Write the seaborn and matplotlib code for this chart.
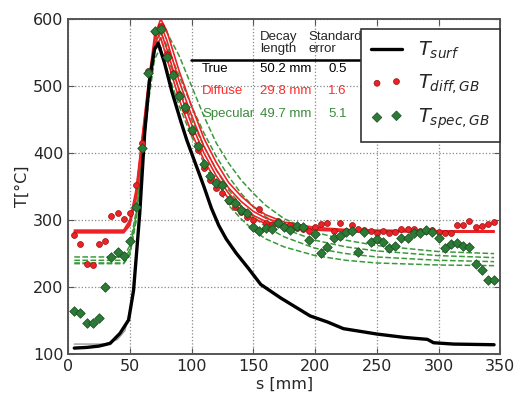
import matplotlib

matplotlib.use("Agg")
import matplotlib.pyplot as plt
import numpy as np
import pandas as pd
import seaborn as sns

# measured points, every 5 mm along the surface
s_pts = list(range(5, 350, 5))
T_diff = [278, 265, 234, 233, 264, 269, 306, 311, 301, 310, 352, 415, 522, 580, 590,
          548, 520, 488, 465, 432, 405, 378, 360, 348, 340, 328, 320, 312, 305, 300,
          316, 296, 292, 298, 290, 293, 288, 286, 283, 290, 294, 295, 283, 296, 283,
          292, 287, 285, 283, 281, 283, 281, 282, 287, 287, 287, 283, 283, 285, 282,
          280, 281, 292, 292, 299, 290, 291, 294, 297]
T_spec = [165, 162, 146, 147, 154, 200, 245, 252, 246, 269, 320, 408, 520, 582, 585,
          544, 516, 485, 469, 435, 410, 383, 366, 355, 353, 330, 326, 315, 311, 290,
          284, 288, 286, 296, 289, 285, 291, 290, 270, 279, 251, 260, 273, 276, 282,
          284, 252, 282, 267, 272, 267, 258, 261, 274, 274, 280, 281, 285, 282, 274,
          259, 265, 266, 262, 260, 235, 226, 210, 210]

# true surface temperature
s_surf = [5, 15, 25, 34, 42, 49, 53, 58, 62, 66, 70, 73, 78, 84, 91, 96, 100, 105, 110,
          116, 122, 128, 136, 146, 156, 172, 196, 210, 223, 250, 272, 291, 296, 312, 345]
T_surf = [109, 110, 112, 116, 131, 151, 195, 310, 430, 510, 555, 564, 535, 492, 449, 420,
          400, 375, 350, 318, 292, 272, 251, 228, 204, 184, 157, 148, 138, 130, 125,
          122, 117, 115, 114]
s_surf_thin = [5, 30, 40, 46, 50, 53]
T_surf_thin = [115, 115, 122, 135, 165, 200]

# fitted curves
s_fit = [5, 45, 50, 55, 60, 65, 70, 75, 80, 90, 100, 110, 120, 130, 140, 150, 160, 175,
         200, 225, 250, 300, 345]
diff_fits = [
    [285, 285, 300, 345, 425, 505, 575, 600, 582, 522, 470, 422, 386, 356, 336, 320, 308, 297, 289, 286, 285, 284, 284],
    [283, 283, 297, 340, 420, 500, 568, 592, 568, 507, 456, 410, 375, 348, 328, 313, 303, 294, 287, 285, 284, 283, 283],
    [282, 282, 295, 336, 415, 495, 562, 582, 555, 493, 443, 400, 366, 340, 320, 307, 298, 291, 286, 284, 283, 283, 283],
    [281, 281, 292, 332, 410, 490, 555, 572, 541, 480, 430, 390, 357, 332, 314, 302, 295, 289, 285, 283, 283, 282, 282],
]
spec_fits = [
    [245, 245, 262, 312, 402, 492, 560, 590, 580, 545, 500, 455, 415, 385, 360, 340, 322, 302, 282, 270, 262, 253, 250],
    [240, 240, 256, 306, 396, 486, 555, 580, 560, 515, 470, 430, 395, 365, 340, 320, 305, 287, 270, 260, 254, 247, 244],
    [236, 236, 251, 301, 391, 481, 550, 572, 545, 495, 450, 410, 375, 345, 322, 305, 290, 275, 258, 250, 245, 240, 238],
    [235, 235, 248, 298, 386, 476, 540, 558, 525, 470, 425, 385, 350, 322, 302, 285, 272, 260, 247, 240, 236, 233, 232],
]

# table inset
table_rows = ["True", "Diffuse", "Specular"]
decay_lengths = ["50.2 mm", "29.8 mm", "49.7 mm"]
std_errors = ["0.5", "1.6", "5.1"]

RED = "#ec2226"
GREEN = "#2b7a35"
GREEN_FIT = "#3a9a3a"
row_colors = ["black", "#ff2a2a", "#3a8a3a"]

sns.set_style("ticks")
plt.rcParams["font.family"] = ["DejaVu Sans"]

fig = plt.figure(figsize=(5.2, 3.97), dpi=100)
ax = fig.add_axes([0.131, 0.108, 0.831, 0.844])

for vals in spec_fits:
    sns.lineplot(x=s_fit, y=vals, ax=ax, color=GREEN_FIT, lw=1.1, linestyle="--",
                 dashes=False, estimator=None, sort=False)
for vals in diff_fits:
    sns.lineplot(x=s_fit, y=vals, ax=ax, color=RED, lw=1.2, estimator=None, sort=False)

sns.lineplot(x=s_surf_thin, y=T_surf_thin, ax=ax, color="#999999", lw=1.0,
             estimator=None, sort=False)
sns.lineplot(x=s_surf, y=T_surf, ax=ax, color="black", lw=2.4, estimator=None,
             sort=False, label="$T_{surf}$")

sns.scatterplot(x=s_pts, y=T_diff, ax=ax, color=RED, edgecolor="#9a1010", s=18,
                linewidth=0.5, marker="o", zorder=4, label="$T_{diff,GB}$")
sns.scatterplot(x=s_pts, y=T_spec, ax=ax, color=GREEN, edgecolor="#1a4a20", s=24,
                linewidth=0.5, marker="D", zorder=5, label="$T_{spec,GB}$")

ax.set_xlim(0, 350)
ax.set_ylim(100, 600)
ax.set_xticks(range(0, 351, 50))
ax.set_yticks(range(100, 601, 100))
ax.grid(True, linestyle=":", color="#888888", lw=0.9)
ax.tick_params(direction="in", top=True, right=True, labelsize=11.5, length=4,
               color="#555555")
for sp in ax.spines.values():
    sp.set_color("#555555")
    sp.set_linewidth(1.4)
ax.set_xlabel("s [mm]", fontsize=11.5, labelpad=2)
ax.set_ylabel("T[°C]", fontsize=11.5, labelpad=2)

leg = ax.legend(loc="upper right", bbox_to_anchor=(1.0, 0.97), borderaxespad=0,
                fontsize=14, scatterpoints=2, handlelength=1.6, fancybox=False,
                framealpha=1, edgecolor="#333333", labelspacing=0.55,
                borderpad=0.55)
leg.get_frame().set_linewidth(1.2)

# decay length table
tf = dict(transform=ax.transAxes, family="Liberation Sans", fontsize=9.5)
ax.text(0.444, 0.928, "Decay\nlength", ha="left", va="center", linespacing=1.05, **tf)
ax.text(0.556, 0.928, "Standard\nerror", ha="left", va="center", linespacing=1.05, **tf)
ax.plot([0.285, 0.676], [0.878, 0.878], color="black", lw=1.8, transform=ax.transAxes)
for i, (name, dl, se) in enumerate(zip(table_rows, decay_lengths, std_errors)):
    y = 0.852 - i * 0.067
    c = row_colors[i]
    ax.text(0.31, y, name, ha="left", va="center", color=c, **tf)
    ax.text(0.444, y, dl, ha="left", va="center", color=c, **tf)
    ax.text(0.645, y, se, ha="right", va="center", color=c, **tf)

fig.savefig("out.png", dpi=100)
